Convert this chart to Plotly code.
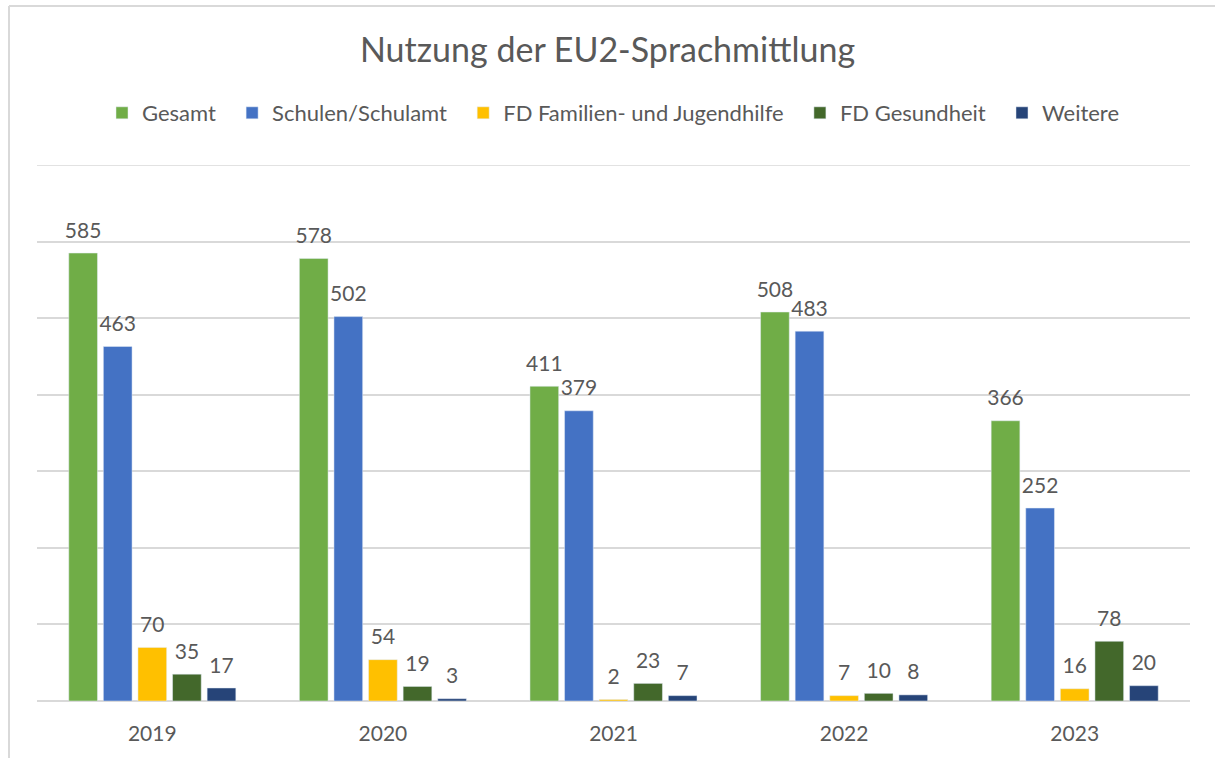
import plotly.graph_objects as go

years = ["2019", "2020", "2021", "2022", "2023"]
series_names = ["Gesamt", "Schulen/Schulamt", "FD Familien- und Jugendhilfe", "FD Gesundheit", "Weitere"]
gesamt = [585, 578, 411, 508, 366]
schulen = [463, 502, 379, 483, 252]
familien = [70, 54, 2, 7, 16]
gesundheit = [35, 19, 23, 10, 78]
weitere = [17, 3, 7, 8, 20]
colors = ["#70AD47", "#4472C4", "#FFC000", "#43682B", "#264478"]

FONT = "Lato, Carlito, Calibri, sans-serif"
TXT = "#595959"
PAD = "\u00a0\u00a0"

fig = go.Figure()
all_vals = [gesamt, schulen, familien, gesundheit, weitere]
for i, (name, vals, col) in enumerate(zip(series_names, all_vals, colors)):
    fig.add_trace(go.Bar(
        name=name + (PAD if i < len(series_names) - 1 else ""), x=years, y=vals, marker_color=col,
        texttemplate="<span style='font-size:21px'>%{y}</span><br> ", textposition="outside",
        textfont=dict(family=FONT, size=8, color=TXT),
        constraintext="none", cliponaxis=False,
    ))

W, H = 1215, 758
L, R, T, B = 37, 1190, 165, 701
pw, ph = R - L, B - T

def px(x):
    return (x - L) / pw

def py(y):
    return (B - y) / ph

fig.update_layout(
    width=W, height=H,
    margin=dict(l=L, r=W - R, t=T, b=H - B),
    paper_bgcolor="white", plot_bgcolor="white",
    barmode="group", bargap=0.25, bargroupgap=0.17,
    title=dict(text="Nutzung der EU2-Sprachmittlung", x=0.5, xanchor="center",
               y=1 - 50 / H, yanchor="middle",
               font=dict(family=FONT, size=34, color=TXT)),
    legend=dict(orientation="h", x=0.5, xanchor="center", y=py(113), yanchor="middle",
                font=dict(family=FONT, size=22, color=TXT),
                traceorder="normal"),
    font=dict(family=FONT, color=TXT),
    xaxis=dict(showgrid=False, showline=False, ticks="", tickfont=dict(family=FONT, size=21, color=TXT),
               ticklabelstandoff=18),
    yaxis=dict(range=[0, 700], dtick=100, showticklabels=False, showgrid=True,
               gridcolor="#D9D9D9", gridwidth=1.5, zeroline=True, zerolinecolor="#D9D9D9",
               zerolinewidth=1.5, showline=False),
    shapes=[
        dict(type="line", xref="paper", yref="y", x0=0, x1=1, y0=700, y1=700,
             line=dict(color="#D9D9D9", width=1.5), layer="below"),
        dict(type="line", xref="paper", yref="paper", x0=px(9), x1=px(9), y0=py(6), y1=py(760),
             line=dict(color="#D9D9D9", width=2)),
        dict(type="line", xref="paper", yref="paper", x0=px(9), x1=px(1216), y0=py(6), y1=py(6),
             line=dict(color="#D9D9D9", width=2)),
    ],
)

fig.write_html("out.html", config={"displayModeBar": False},
               post_script="document.body.style.margin='0';document.body.style.padding='0';")
